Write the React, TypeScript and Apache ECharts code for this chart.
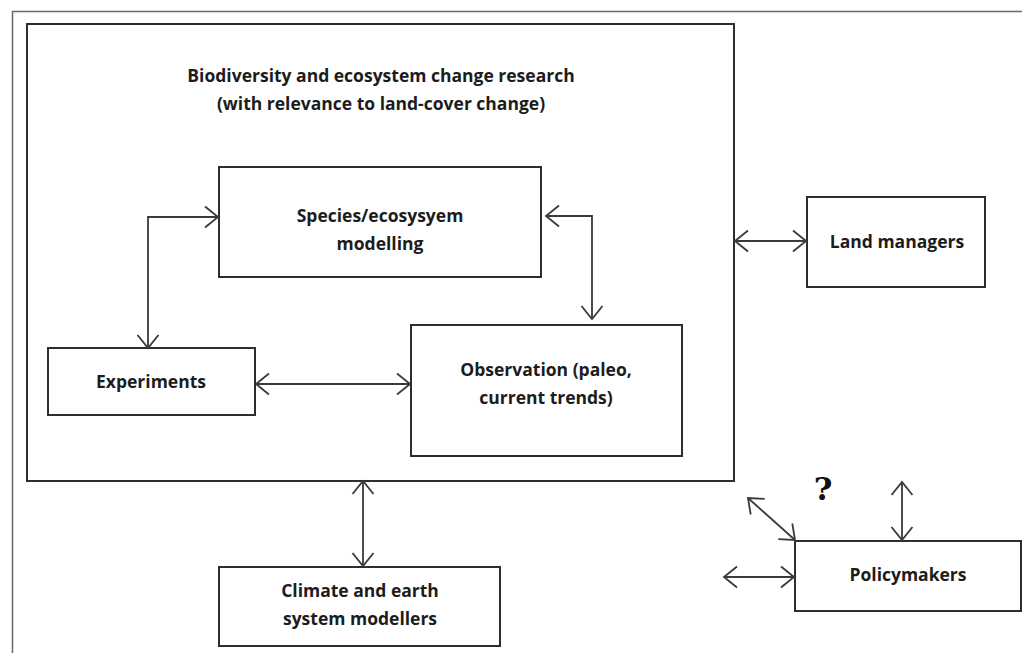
import React, { useEffect, useRef } from "react";
import * as echarts from "echarts";

// Node labels
const titleLines = ["Biodiversity and ecosystem change research", "(with relevance to land-cover change)"];
const speciesLines = ["Species/ecosysyem", "modelling"];
const experimentsLines = ["Experiments"];
const observationLines = ["Observation (paleo,", "current trends)"];
const landLines = ["Land managers"];
const climateLines = ["Climate and earth", "system modellers"];
const policyLines = ["Policymakers"];
const questionMark = "?";

// Layout (positions in px)
const boxes = [
  { x: 27, y: 24, w: 707, h: 457, lines: titleLines, cx: 381, cy: 89 },
  { x: 219, y: 167, w: 322, h: 110, lines: speciesLines, cx: 380, cy: 229 },
  { x: 48, y: 348, w: 207, h: 67, lines: experimentsLines, cx: 151, cy: 381 },
  { x: 411, y: 325, w: 271, h: 131, lines: observationLines, cx: 546, cy: 383 },
  { x: 807, y: 197, w: 178, h: 90, lines: landLines, cx: 897, cy: 241 },
  { x: 219, y: 567, w: 281, h: 79, lines: climateLines, cx: 360, cy: 604 },
  { x: 795, y: 541, w: 226, h: 70, lines: policyLines, cx: 908, cy: 574 },
];

const arrows: number[][][] = [
  [[148, 348], [148, 217], [218, 217]],
  [[546, 216], [592, 216], [592, 319]],
  [[256, 384], [410, 384]],
  [[735, 241], [806, 241]],
  [[363, 481], [363, 566]],
  [[724, 577], [794, 577]],
  [[795, 540], [748, 498]],
  [[902, 482], [902, 540]],
];

function head(tip: number[], from: number[]) {
  const dx = tip[0] - from[0];
  const dy = tip[1] - from[1];
  const len = Math.hypot(dx, dy) || 1;
  const ux = dx / len, uy = dy / len;
  const nx = -uy, ny = ux;
  const L = 13, W = 10.5;
  return [
    [tip[0] - ux * L + nx * W, tip[1] - uy * L + ny * W],
    tip,
    [tip[0] - ux * L - nx * W, tip[1] - uy * L - ny * W],
  ];
}

export default function App() {
  const ref = useRef<HTMLDivElement>(null);
  useEffect(() => {
    document.body.style.margin = "0";
    const chart = echarts.init(ref.current!, undefined, { renderer: "svg" });
    const els: any[] = [];
    const textStyle = { fill: "#1c1c1c", fontFamily: "Open Sans", fontWeight: "bold", fontSize: 17.5 };
    // outer frame
    els.push({ type: "polyline", shape: { points: [[12.5, 653], [12.5, 11.5], [1022, 11.5]] }, style: { stroke: "#6a6a6a", lineWidth: 1.5, fill: null } });
    boxes.forEach((b) => {
      els.push({ type: "rect", shape: { x: b.x, y: b.y, width: b.w, height: b.h }, style: { stroke: "#2e2e2e", lineWidth: 2, fill: "#fff" } });
    });
    boxes.forEach((b) => {
      const n = b.lines.length;
      b.lines.forEach((t, i) => {
        els.push({ type: "text", x: b.cx, y: b.cy + (i - (n - 1) / 2) * 28, style: { ...textStyle, text: t, align: "center", verticalAlign: "middle" } });
      });
    });
    const stroke = { stroke: "#3a3a3a", lineWidth: 1.8, fill: null };
    arrows.forEach((pts) => {
      els.push({ type: "polyline", shape: { points: pts }, style: stroke });
      els.push({ type: "polyline", shape: { points: head(pts[0], pts[1]) }, style: stroke });
      els.push({ type: "polyline", shape: { points: head(pts[pts.length - 1], pts[pts.length - 2]) }, style: stroke });
    });
    els.push({ type: "text", x: 823, y: 489, style: { text: questionMark, fill: "#111", fontFamily: "DejaVu Serif", fontWeight: "bold", fontSize: 32, align: "center", verticalAlign: "middle" } });
    chart.setOption({ animation: false, backgroundColor: "#fff", graphic: { elements: els } });
    return () => chart.dispose();
  }, []);
  return <div ref={ref} style={{ width: 1022, height: 653 }} />;
}
